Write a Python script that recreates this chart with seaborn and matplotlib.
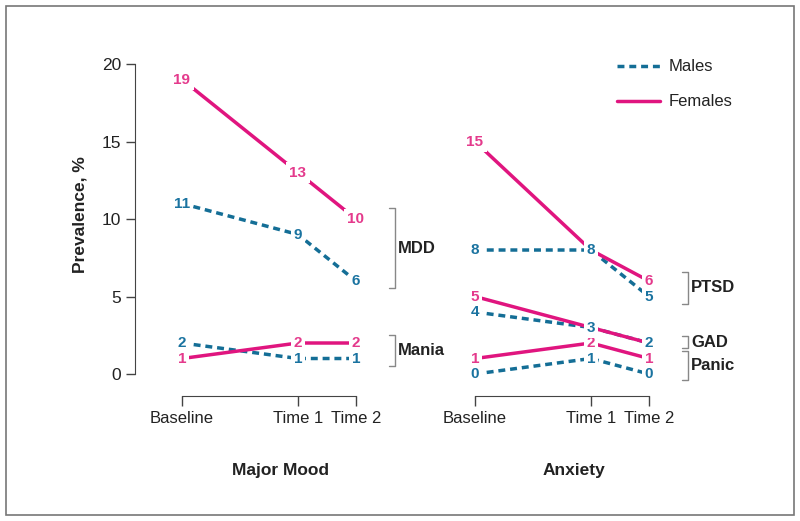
import pandas as pd
import seaborn as sns
import matplotlib.pyplot as plt
from matplotlib.patches import Rectangle

# data
timepoints = ["Baseline", "Time 1", "Time 2"]
time_pos = [0, 2, 3]

mdd_males = [11, 9, 6]
mdd_females = [19, 13, 10]
mania_males = [2, 1, 1]
mania_females = [1, 2, 2]

ptsd_males = [8, 8, 5]
ptsd_females = [15, 8, 6]
gad_males = [4, 3, 2]
gad_females = [5, 3, 2]
panic_males = [0, 1, 0]
panic_females = [1, 2, 1]

series = {
    ("Major Mood", "MDD"): (mdd_males, mdd_females),
    ("Major Mood", "Mania"): (mania_males, mania_females),
    ("Anxiety", "PTSD"): (ptsd_males, ptsd_females),
    ("Anxiety", "GAD"): (gad_males, gad_females),
    ("Anxiety", "Panic"): (panic_males, panic_females),
}

# bracket extents (top, bottom) next to the Time 2 labels
brackets = {
    "Major Mood": [("MDD", 10.7, 5.55), ("Mania", 2.5, 0.5)],
    "Anxiety": [("PTSD", 6.6, 4.5), ("GAD", 2.45, 1.65), ("Panic", 1.5, -0.4)],
}

rows = []
for (panel, disorder), (males, females) in series.items():
    for sex, vals in (("Females", females), ("Males", males)):
        for t, lab, v in zip(time_pos, timepoints, vals):
            rows.append(dict(panel=panel, disorder=disorder, sex=sex, t=t, time=lab, prevalence=v))
df = pd.DataFrame(rows)

blue = "#146E96"
pink = "#E0157F"
colors = {"Males": blue, "Females": pink}
label_colors = {"Males": "#1A73A0", "Females": "#E43A8C"}
ink = "#222222"

sns.set_style("white")
plt.rcParams["font.family"] = ["Liberation Sans", "DejaVu Sans"]

fig = plt.figure(figsize=(8, 5.21), dpi=100)
ax_l = fig.add_axes([135 / 800, 0.2399, 0.3197, 0.6521])
ax_r = fig.add_axes([428 / 800, 0.2399, 0.3197, 0.6521])

for ax, panel in ((ax_l, "Major Mood"), (ax_r, "Anxiety")):
    ax.patch.set_visible(False)
    sub = df[df.panel == panel]
    sns.lineplot(data=sub, x="t", y="prevalence", hue="sex", style="sex",
                 units="disorder", estimator=None, sort=False,
                 hue_order=["Males", "Females"], style_order=["Males", "Females"],
                 palette=colors, dashes={"Males": (2, 1.4), "Females": ""},
                 linewidth=2.5, legend=(panel == "Anxiety"), ax=ax)

    # value labels sitting on the lines (males last so ties show blue)
    for sex in ("Females", "Males"):
        for _, r in sub[sub.sex == sex].iterrows():
            ax.text(r.t, r.prevalence, str(r.prevalence), ha="center", va="center",
                    color=label_colors[sex], fontsize=11, fontweight="bold", zorder=5,
                    bbox=dict(boxstyle="square,pad=0.2", fc="white", ec="none"))

    for name, top, bot in brackets[panel]:
        ax.plot([3.57, 3.67, 3.67, 3.57], [top, top, bot, bot], color="#888888",
                lw=1, clip_on=False)
        ax.text(3.73, (top + bot) / 2, name, ha="left", va="center", fontsize=12,
                fontweight="bold", color=ink)

    ax.set_xlim(-0.81, 3.6)
    ax.set_ylim(-1.42, 20.5)
    ax.set_xticks(time_pos)
    ax.set_xticklabels(timepoints)
    ax.set_xlabel("")
    ax.set_ylabel("")
    ax.spines[["top", "right"]].set_visible(False)
    ax.spines["bottom"].set_bounds(0, 3)
    ax.spines["bottom"].set_color("#444444")
    ax.tick_params(axis="x", direction="out", bottom=True, length=7, width=1,
                   color="#444444", pad=4, labelsize=12, labelcolor=ink)
    ax.text(1.7, -6.2, panel, ha="center", va="center", fontsize=12.5,
            fontweight="bold", color=ink)

ax_l.spines["left"].set_bounds(0, 20)
ax_l.spines["left"].set_color("#444444")
ax_l.set_yticks([0, 5, 10, 15, 20])
ax_l.tick_params(axis="y", direction="out", left=True, length=6.5, width=1,
                 color="#444444", pad=3.5, labelsize=12.5, labelcolor=ink)
ax_l.set_ylabel("Prevalence, %", fontsize=12.5, fontweight="bold", color=ink)
ax_l.yaxis.set_label_coords(-0.185, 0.533)

ax_r.spines["left"].set_visible(False)
ax_r.set_yticks([])

sns.move_legend(ax_r, loc="upper left", bbox_to_anchor=(0.761, 0.902),
                bbox_transform=fig.transFigure, title=None, frameon=False,
                fontsize=12, borderpad=0, handlelength=2.6, handletextpad=0.5,
                labelspacing=1.2)
for txt in ax_r.get_legend().get_texts():
    txt.set_color(ink)

fig.patches.append(Rectangle((6 / 800, 6 / 521), 788 / 800, 509 / 521,
                             transform=fig.transFigure, fill=False,
                             edgecolor="#777777", lw=1.2))

fig.savefig("out.png", dpi=100)
